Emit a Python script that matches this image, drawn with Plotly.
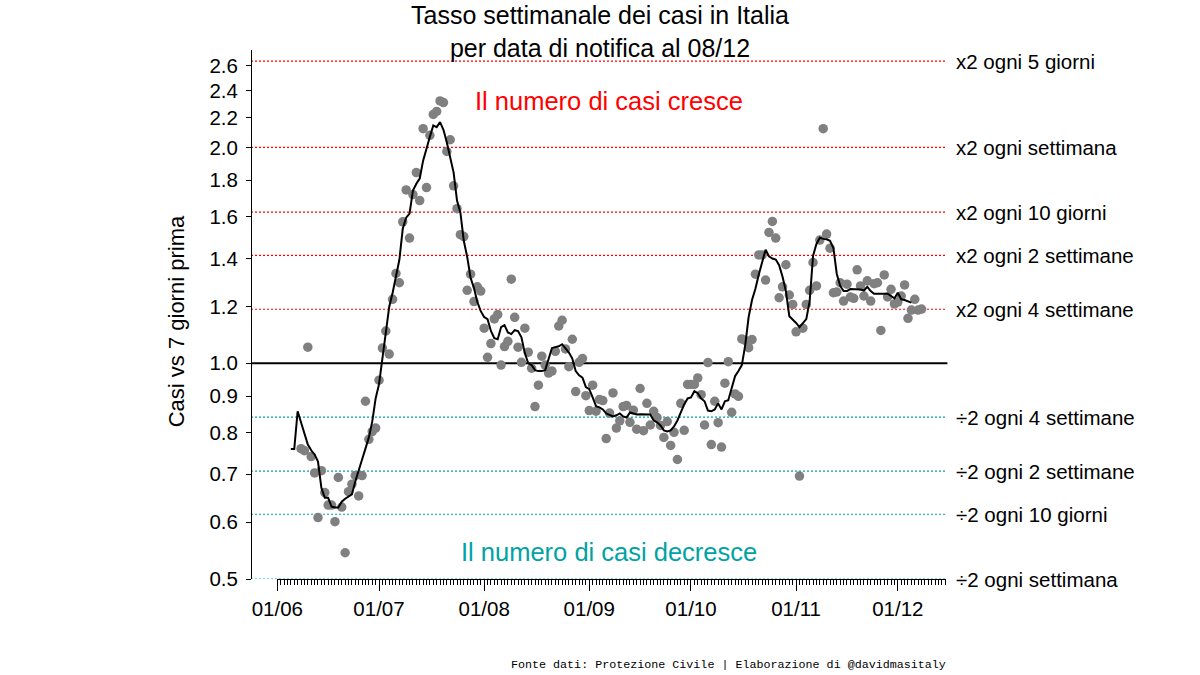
import math
import pandas as pd
import plotly.graph_objects as go

# ---------------- data ----------------
points_start = "2020-06-08"   # first daily point
points_values = [
    # June
    0.76, 0.755, 1.053, 0.741, 0.703, 0.609, 0.708, 0.66, 0.634, 0.634, 0.601, 0.693,
    0.63, 0.544, 0.662, 0.678, 0.697, 0.653, 0.697, 0.885, 0.783, 0.803, 0.812,
    # July
    0.947, 1.05, 1.109, 1.03, 1.228, 1.334, 1.295, 1.575, 1.745, 1.495, 1.719, 1.845,
    1.686, 2.124, 1.758, 2.079, 2.224, 2.245, 2.322, 2.31, 1.974, 2.05, 1.768, 1.643,
    1.511, 1.502, 1.264, 1.331, 1.219, 1.278, 1.261,
    # August
    1.119, 1.019, 1.065, 1.153, 1.169, 0.994, 1.055, 1.073, 1.31, 1.159, 1.053, 1.003,
    1.119, 1.036, 0.984, 0.87, 0.932, 1.023, 0.994, 0.969, 0.975, 1.039, 1.127, 1.148,
    1.047, 0.989, 1.08, 0.913, 1.003, 1.015,
    # September
    0.901, 0.859, 0.932, 0.857, 0.89, 0.887, 0.785, 0.852, 0.909, 0.812, 0.831, 0.87,
    0.873, 0.827, 0.86, 0.809, 0.922, 0.805, 0.879, 0.82, 0.857, 0.84, 0.819, 0.788,
    0.829, 0.768, 0.801, 0.734, 0.879, 0.806,
    # October
    0.934, 0.934, 0.934, 0.954, 0.904, 0.82, 1.002, 0.77, 0.885, 0.826, 0.764, 0.938,
    1.005, 0.854, 0.906, 0.899, 1.081, 1.076, 1.051, 1.079, 1.331, 1.416, 1.416, 1.306,
    1.522, 1.577, 1.495, 1.234, 1.278, 1.372, 1.245,
    # November
    1.208, 1.106, 0.696, 1.119, 1.208, 1.264, 1.382, 1.282, 1.485, 2.124, 1.514, 1.447,
    1.254, 1.257, 1.295, 1.221, 1.289, 1.237, 1.232, 1.35, 1.282, 1.241, 1.303, 1.221,
    1.291, 1.295, 1.111, 1.328, 1.237, 1.268,
    # December
    1.21, 1.217, 1.241, 1.286, 1.155, 1.186, 1.228, 1.186, 1.19,
]

trend_start = "2020-06-05"    # first day of the smoothed line
trend_values = [
    # June
    0.759, 0.759, 0.857, 0.827, 0.798, 0.77, 0.756, 0.746, 0.729, 0.67, 0.649, 0.649,
    0.631, 0.629, 0.629, 0.641, 0.647, 0.651, 0.656, 0.684, 0.706, 0.734, 0.76, 0.788,
    0.829, 0.893,
    # July
    0.935, 1.013, 1.091, 1.198, 1.253, 1.323, 1.394, 1.54, 1.596, 1.617, 1.741, 1.78,
    1.81, 1.917, 2.0, 2.07, 2.147, 2.135, 2.169, 2.117, 2.032, 1.93, 1.845, 1.686,
    1.622, 1.482, 1.407, 1.316, 1.273, 1.217, 1.182,
    # August
    1.16, 1.152, 1.109, 1.084, 1.08, 1.123, 1.13, 1.104, 1.098, 1.112, 1.109, 1.087,
    1.033, 1.0, 0.994, 0.978, 0.975, 0.975, 0.978, 1.013, 1.05, 1.053, 1.056, 1.063,
    1.05, 1.035, 1.015, 0.975, 0.962, 0.955,
    # September
    0.926, 0.92, 0.896, 0.871, 0.868, 0.862, 0.851, 0.846, 0.843, 0.846, 0.851, 0.843,
    0.84, 0.854, 0.851, 0.848, 0.849, 0.848, 0.848, 0.848, 0.832, 0.827, 0.819, 0.806,
    0.803, 0.806, 0.816, 0.832, 0.854, 0.876,
    # October
    0.893, 0.896, 0.914, 0.908, 0.893, 0.885, 0.859, 0.857, 0.862, 0.879, 0.862, 0.885,
    0.888, 0.92, 0.959, 0.975, 0.994, 1.06, 1.16, 1.225, 1.27, 1.33, 1.39, 1.44,
    1.41, 1.40, 1.395, 1.37, 1.32, 1.26, 1.163,
    # November
    1.152, 1.138, 1.123, 1.138, 1.152, 1.221, 1.412, 1.467, 1.496, 1.491, 1.489, 1.482,
    1.448, 1.332, 1.282, 1.261, 1.261, 1.269, 1.269, 1.269, 1.267, 1.263, 1.278, 1.261,
    1.25, 1.25, 1.25, 1.25, 1.25, 1.241,
    # December
    1.232, 1.254, 1.228, 1.225, 1.219, 1.215,
]

# reference lines: doubling / halving times (days)
ref_days = [5, 7, 10, 14, 28]
ref_up_labels = ["x2 ogni 5 giorni", "x2 ogni settimana", "x2 ogni 10 giorni",
                 "x2 ogni 2 settimane", "x2 ogni 4 settimane"]
ref_down_days = [28, 14, 10, 7]
ref_down_labels = ["÷2 ogni 4 settimane", "÷2 ogni 2 settimane",
                   "÷2 ogni 10 giorni", "÷2 ogni settimana"]

y_tickvals = [0.5, 0.6, 0.7, 0.8, 0.9, 1.0, 1.2, 1.4, 1.6, 1.8, 2.0, 2.2, 2.4, 2.6]
y_ticktext = ["0.5", "0.6", "0.7", "0.8", "0.9", "1.0", "1.2", "1.4", "1.6",
              "1.8", "2.0", "2.2", "2.4", "2.6"]

# ---------------- figure ----------------
RED = "#FF0000"
TEAL = "#00A3A3"
FONT = "Liberation Sans, Arial, sans-serif"
LAB = 20.5

pts_dates = pd.date_range(points_start, periods=len(points_values), freq="D")
trend_dates = pd.date_range(trend_start, periods=len(trend_values), freq="D")

fig = go.Figure()
fig.add_trace(go.Scatter(
    x=pts_dates, y=points_values, mode="markers",
    marker=dict(color="#808080", size=9.5, line=dict(width=0)),
    showlegend=False, hoverinfo="x+y"))
fig.add_trace(go.Scatter(
    x=trend_dates, y=trend_values, mode="lines",
    line=dict(color="black", width=2),
    showlegend=False, hoverinfo="x+y"))

shapes = []
annotations = []
for d, lab in zip(ref_days, ref_up_labels):
    v = 2 ** (7 / d)
    # shapes on a log axis take data values
    shapes.append(dict(type="line", xref="paper", x0=0, x1=1, yref="y",
                       y0=v, y1=v, layer="below",
                       line=dict(color=RED, width=1.2, dash="2px,2px")))
    # annotations on a log axis take log10 values
    annotations.append(dict(text=lab, xref="paper", x=1.012, xanchor="left",
                            yref="y", y=math.log10(v), yanchor="middle",
                            showarrow=False, font=dict(size=LAB, color="black", family=FONT)))
for d, lab in zip(ref_down_days, ref_down_labels):
    v = 0.5 ** (7 / d)
    shapes.append(dict(type="line", xref="paper", x0=0, x1=1, yref="y",
                       y0=v, y1=v, layer="below",
                       line=dict(color=TEAL, width=1.2, dash="2px,2px")))
    annotations.append(dict(text=lab, xref="paper", x=1.012, xanchor="left",
                            yref="y", y=math.log10(v), yanchor="middle",
                            showarrow=False, font=dict(size=LAB, color="black", family=FONT)))
# baseline 1.0
shapes.append(dict(type="line", xref="paper", x0=0, x1=1.002, yref="y", y0=1.0, y1=1.0,
                   layer="below", line=dict(color="black", width=2)))

annotations += [
    dict(text="Il numero di casi cresce", xref="paper", x=0.515, xanchor="center",
         yref="paper", y=0.9036, yanchor="middle",
         showarrow=False, font=dict(size=25.5, color=RED, family=FONT)),
    dict(text="Il numero di casi decresce", xref="paper", x=0.515, xanchor="center",
         yref="paper", y=0.051, yanchor="middle",
         showarrow=False, font=dict(size=25.5, color=TEAL, family=FONT)),
    dict(text="Casi vs 7 giorni prima", xref="paper", x=-0.108, xanchor="center",
         yref="paper", y=0.487, yanchor="middle",
         textangle=-90, showarrow=False, font=dict(size=22, color="black", family=FONT)),
    dict(text="Fonte dati: Protezione Civile | Elaborazione di @davidmasitaly",
         xref="paper", x=1.003, xanchor="right", yref="paper", y=-0.1626, yanchor="middle",
         showarrow=False,
         font=dict(size=11.7, color="black", family="Liberation Mono, Courier New, monospace")),
]

W_PLOT = 946 - 251
fig.update_layout(
    width=1200, height=675,
    margin=dict(l=251, r=1200 - 946, t=50, b=675 - 579, autoexpand=False),
    paper_bgcolor="white", plot_bgcolor="rgba(0,0,0,0)",
    font=dict(family=FONT, color="black", size=LAB),
    title=dict(text="Tasso settimanale dei casi in Italia<br>per data di notifica al 08/12",
               x=0.5, xref="container", xanchor="center",
               y=1 - 24 / 675, yref="container", yanchor="top",
               font=dict(size=25, color="black", family=FONT)),
    shapes=shapes, annotations=annotations,
    xaxis=dict(
        type="date", domain=[(277.3 - 251) / W_PLOT, 1], anchor="y",
        range=["2020-06-01", "2020-12-15 05:00"],
        tick0="2020-06-01", dtick="M1", tickformat="%d/%m",
        ticks="outside", ticklen=11, tickwidth=1, tickcolor="black",
        showline=True, linecolor="black", linewidth=1,
        showgrid=False, zeroline=False,
        tickfont=dict(size=LAB, color="black", family=FONT),
        minor=dict(tick0="2020-06-01", dtick=86400000, ticks="outside", ticklen=5,
                   tickwidth=1, tickcolor="black", showgrid=False),
    ),
    yaxis=dict(
        type="log", range=[math.log10(0.5), math.log10(2.735)],
        anchor="free", position=0,
        tickvals=y_tickvals, ticktext=y_ticktext,
        ticks="outside", ticklen=5, tickwidth=1, tickcolor="black",
        ticklabelstandoff=4,
        showline=True, linecolor="black", linewidth=1,
        showgrid=False, zeroline=False,
        tickfont=dict(size=LAB, color="black", family=FONT),
    ),
)

fig.write_html("out.html")
